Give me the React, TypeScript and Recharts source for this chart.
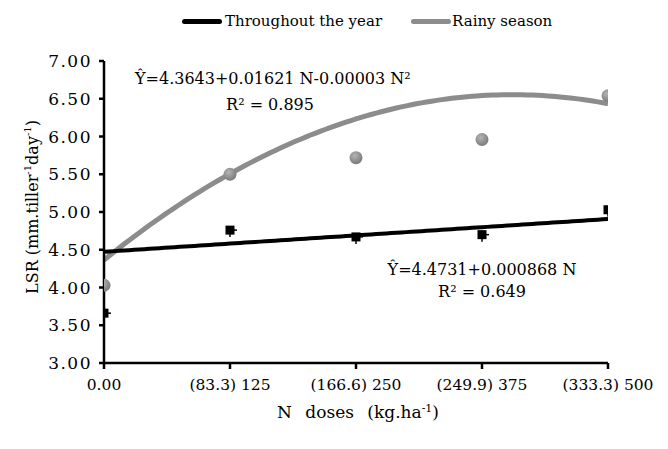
import React from 'react';
import {
  ComposedChart,
  Line,
  Scatter,
  XAxis,
  YAxis,
} from 'recharts';

const doses = [0, 125, 250, 375, 500];
const doseLabels = ['0.00', '(83.3) 125', '(166.6) 250', '(249.9) 375', '(333.3) 500'];
const yTicks = [3, 3.5, 4, 4.5, 5, 5.5, 6, 6.5, 7];

const throughoutYear = [3.66, 4.76, 4.67, 4.70, 5.03];
const rainySeason = [4.03, 5.5, 5.72, 5.96, 6.54];

// fitted equations printed on the chart
const linearCoef = [4.4731, 0.000868];
const quadCoef = [4.3643, 0.01621, -0.00003];
// rainy season fit is expressed in the bracketed dose (83.3 ... 333.3)
const rainyDoseFactor = 333.3 / 500;

const FONT = '"DejaVu Serif", serif';
const BLACK = '#000000';
const GREY = '#8c8c8c';

const yearPoints = doses.map((x, i) => ({ x, y: throughoutYear[i] }));
const rainyPoints = doses.map((x, i) => ({ x, y: rainySeason[i] }));

const fitX: number[] = [];
for (let x = 0; x <= 500; x += 5) fitX.push(x);
const yearFit = fitX.map((x) => ({ x, y: linearCoef[0] + linearCoef[1] * x }));
const rainyFit = fitX.map((x) => {
  const n = x * rainyDoseFactor;
  return { x, y: quadCoef[0] + quadCoef[1] * n + quadCoef[2] * n * n };
});

const SquareMark = (props: any) => {
  const { cx, cy } = props;
  if (cx == null || cy == null) return null;
  return (
    <g>
      <line x1={cx} y1={cy} x2={cx + 7} y2={cy} stroke={BLACK} strokeWidth={1.5} />
      <line x1={cx} y1={cy} x2={cx} y2={cy + 7} stroke={BLACK} strokeWidth={1.5} />
      <rect x={cx - 4.5} y={cy - 4.5} width={9} height={9} fill={BLACK} />
    </g>
  );
};

const CircleMark = (props: any) => {
  const { cx, cy } = props;
  if (cx == null || cy == null) return null;
  return <circle cx={cx} cy={cy} r={6.5} fill="url(#dotShade)" />;
};

const YTick = (props: any) => {
  const { x, y, payload } = props;
  return (
    <text
      x={x}
      y={y}
      textAnchor="end"
      dominantBaseline="central"
      style={{ fontFamily: FONT, fontSize: 17, letterSpacing: 1.5 }}
      fill={BLACK}
    >
      {Number(payload.value).toFixed(2)}
    </text>
  );
};

const XTick = (props: any) => {
  const { x, y, payload } = props;
  const i = doses.indexOf(payload.value);
  return (
    <text
      x={x}
      y={y}
      dy="0.75em"
      textAnchor="middle"
      style={{ fontFamily: FONT, fontSize: 15.5 }}
      fill={BLACK}
    >
      {doseLabels[i]}
    </text>
  );
};

const abs = (left: number, top: number, extra: React.CSSProperties = {}): React.CSSProperties => ({
  position: 'absolute',
  left,
  top,
  fontFamily: FONT,
  color: BLACK,
  whiteSpace: 'nowrap',
  lineHeight: 1,
  ...extra,
});

export default function App() {
  return (
    <div style={{ position: 'relative', width: 660, height: 441, background: '#fff' }}>
      <ComposedChart
        width={660}
        height={441}
        margin={{ top: 53, right: 60, left: 0, bottom: 0 }}
      >
        <defs>
          <radialGradient id="dotShade" cx="40%" cy="35%" r="65%">
            <stop offset="0%" stopColor="#b4b4b4" />
            <stop offset="100%" stopColor="#7a7a7a" />
          </radialGradient>
        </defs>
        <XAxis
          type="number"
          dataKey="x"
          domain={[0, 500]}
          ticks={doses}
          tick={<XTick />}
          tickSize={6}
          tickMargin={9}
          height={86}
          axisLine={{ stroke: BLACK, strokeWidth: 2.5 }}
          tickLine={{ stroke: BLACK, strokeWidth: 2.5 }}
          allowDataOverflow
        />
        <YAxis
          type="number"
          dataKey="y"
          domain={[3, 7]}
          ticks={yTicks}
          tick={<YTick />}
          tickSize={5}
          tickMargin={7}
          width={96}
          axisLine={{ stroke: BLACK, strokeWidth: 2.5 }}
          tickLine={{ stroke: BLACK, strokeWidth: 2.5 }}
          allowDataOverflow
        />
        <Line
          data={rainyFit}
          dataKey="y"
          type="monotone"
          stroke={GREY}
          strokeWidth={5}
          dot={false}
          activeDot={false}
          isAnimationActive={false}
        />
        <Line
          data={yearFit}
          dataKey="y"
          type="linear"
          stroke={BLACK}
          strokeWidth={4}
          dot={false}
          activeDot={false}
          isAnimationActive={false}
        />
        <Scatter
          data={rainyPoints}
          dataKey="y"
          shape={<CircleMark />}
          isAnimationActive={false}
        />
        <Scatter
          data={yearPoints}
          dataKey="y"
          shape={<SquareMark />}
          isAnimationActive={false}
        />
      </ComposedChart>

      {/* legend */}
      <div style={abs(174, 6, { display: 'flex', alignItems: 'center', fontSize: 15 })}>
        <span style={{ display: 'inline-block', width: 40, height: 5, borderRadius: 3, background: BLACK }} />
        <span style={{ marginLeft: 3 }}>Throughout the year</span>
        <span style={{ display: 'inline-block', width: 40, height: 5, borderRadius: 3, background: GREY, marginLeft: 29 }} />
        <span style={{ marginLeft: 1 }}>Rainy season</span>
      </div>

      {/* regression equations */}
      <div style={abs(127, 58, { fontSize: 16, textAlign: 'center', width: 250, lineHeight: '26px' })}>
        <div>Ŷ=4.3643+0.01621 N-0.00003 N²</div>
        <div style={{ paddingLeft: 20 }}>R² = 0.895</div>
      </div>
      <div style={abs(376, 251, { fontSize: 16, textAlign: 'center', width: 196, lineHeight: '22px' })}>
        <div>Ŷ=4.4731+0.000868 N</div>
        <div>R² = 0.649</div>
      </div>

      {/* axis titles */}
      <div
        style={abs(24, 199, {
          fontSize: 16,
          transform: 'translate(-50%, -50%) rotate(-90deg)',
        })}
      >
        LSR (mm.tiller<sup style={{ fontSize: 10 }}>-1</sup>day<sup style={{ fontSize: 10 }}>-1</sup>)
      </div>
      <div style={abs(350, 404, { fontSize: 17, wordSpacing: 8, transform: 'translate(-50%, -50%)' })}>
        N doses (kg.ha<sup style={{ fontSize: 11 }}>-1</sup>)
      </div>
    </div>
  );
}
